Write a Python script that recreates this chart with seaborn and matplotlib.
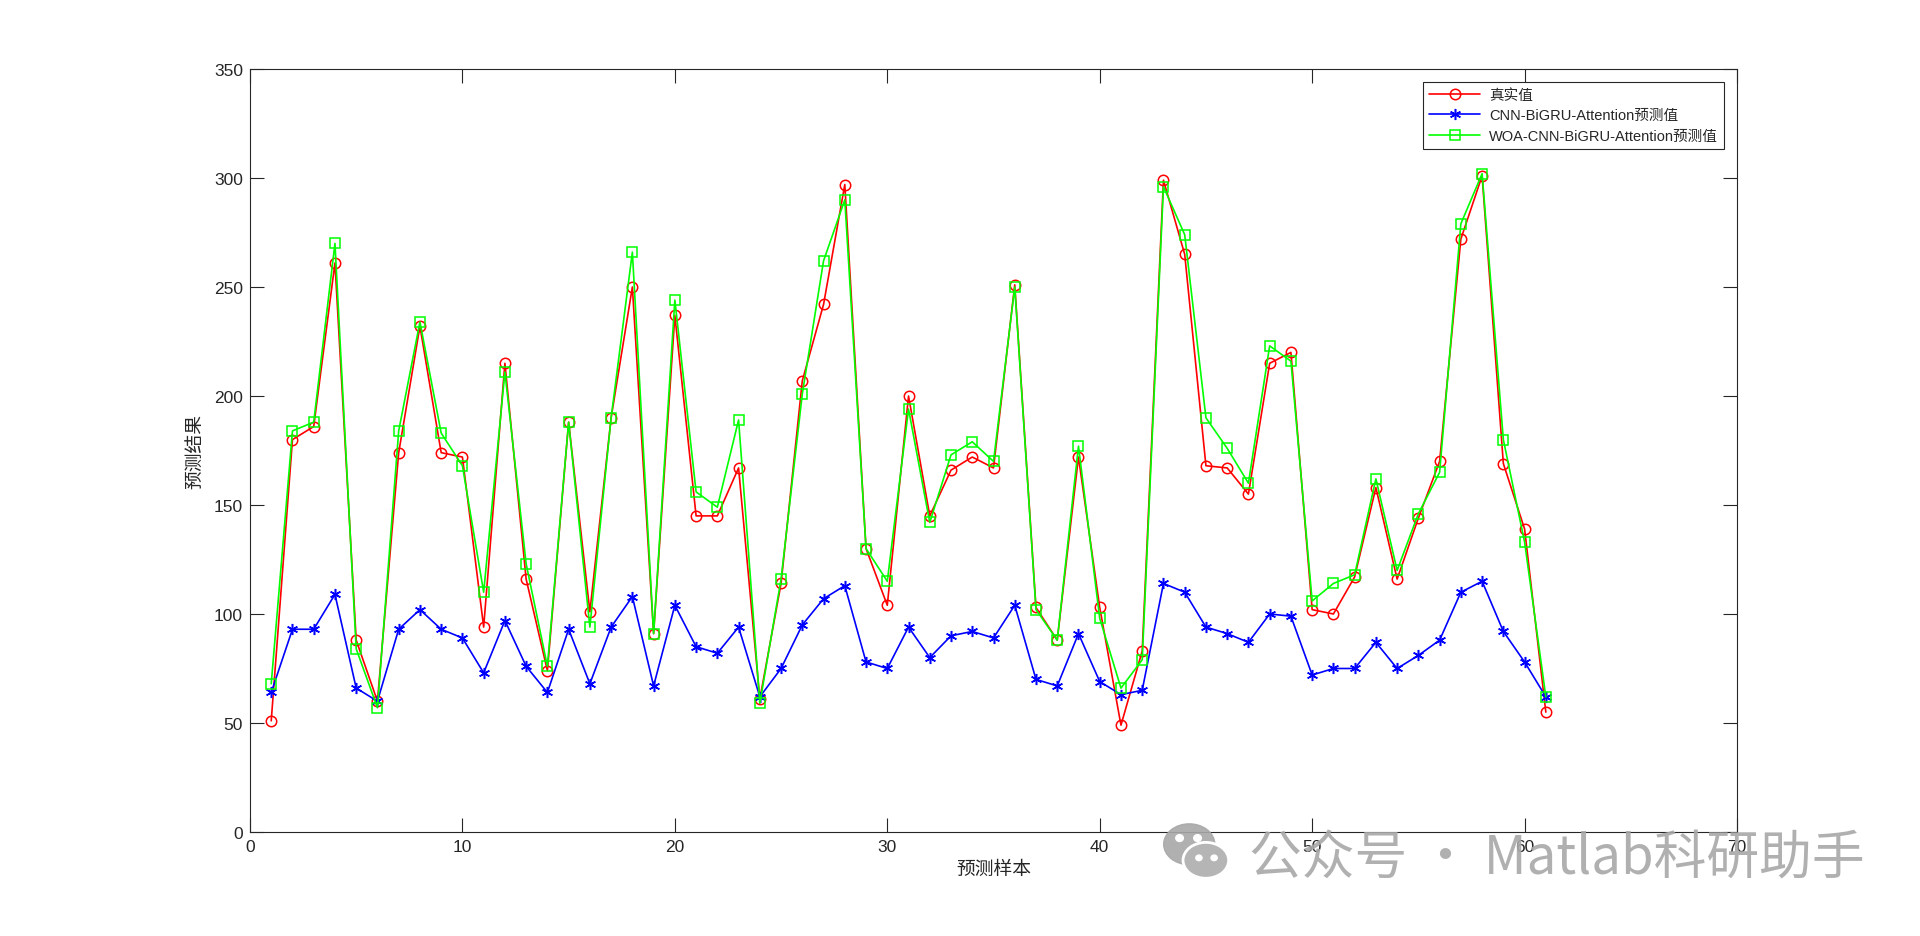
import numpy as np
import pandas as pd
import seaborn as sns
import matplotlib
matplotlib.use("Agg")
import matplotlib.pyplot as plt
from matplotlib.patches import Ellipse, Circle

# sample index and the three series
samples = list(range(1, 62))

true_vals = [51, 180, 186, 261, 88, 60, 174, 232, 174, 172,
             94, 215, 116, 74, 188, 101, 190, 250, 91, 237,
             145, 145, 167, 61, 114, 207, 242, 297, 130, 104,
             200, 145, 166, 172, 167, 251, 103, 88, 172, 103,
             49, 83, 299, 265, 168, 167, 155, 215, 220, 102,
             100, 117, 158, 116, 144, 170, 272, 301, 169, 139,
             55]

cnn_vals = [64, 93, 93, 109, 66, 60, 93, 102, 93, 89,
            73, 97, 76, 64, 93, 68, 94, 108, 67, 104,
            85, 82, 94, 62, 75, 95, 107, 113, 78, 75,
            94, 80, 90, 92, 89, 104, 70, 67, 91, 69,
            63, 65, 114, 110, 94, 91, 87, 100, 99, 72,
            75, 75, 87, 75, 81, 88, 110, 115, 92, 78,
            62]

woa_vals = [68, 184, 188, 270, 84, 57, 184, 234, 183, 168,
            110, 211, 123, 76, 188, 94, 190, 266, 91, 244,
            156, 149, 189, 59, 116, 201, 262, 290, 130, 115,
            194, 142, 173, 179, 170, 250, 102, 88, 177, 98,
            66, 79, 296, 274, 190, 176, 160, 223, 216, 106,
            114, 118, 162, 120, 146, 165, 279, 302, 180, 133,
            62]

labels = ["真实值", "CNN-BiGRU-Attention预测值", "WOA-CNN-BiGRU-Attention预测值"]
x_label = "预测样本"
y_label = "预测结果"
watermark = "公众号 · Matlab科研助手"

df = pd.DataFrame({"sample": samples, "true": true_vals,
                   "cnn": cnn_vals, "woa": woa_vals})

sns.set_theme(style="ticks")
plt.rcParams['font.family'] = ['Liberation Sans', 'Noto Sans CJK SC', 'DejaVu Sans']
plt.rcParams['axes.edgecolor'] = '#262626'
plt.rcParams['axes.linewidth'] = 0.8

fig = plt.figure(figsize=(19.2, 9.37), dpi=100)
fig.patch.set_facecolor("white")
ax = fig.add_axes([0.1302, 0.1110, 0.7745, 0.8143])

sns.lineplot(data=df, x="sample", y="true", ax=ax, color="#ff0000", lw=1.2,
             marker="o", markersize=7.5, markerfacecolor="none",
             markeredgecolor="#ff0000", markeredgewidth=1.1, label=labels[0])
sns.lineplot(data=df, x="sample", y="cnn", ax=ax, color="#0000ff", lw=1.2,
             marker=(6, 2, 0), markersize=8, markeredgecolor="#0000ff",
             markeredgewidth=1.1, label=labels[1])
sns.lineplot(data=df, x="sample", y="woa", ax=ax, color="#00ff00", lw=1.2,
             marker="s", markersize=6.5, markerfacecolor="none",
             markeredgecolor="#00ff00", markeredgewidth=1.1, label=labels[2])

ax.set_xlim(0, 70)
ax.set_ylim(0, 350)
ax.set_xticks(np.arange(0, 71, 10))
ax.set_yticks(np.arange(0, 351, 50))
ax.tick_params(direction="in", length=10, width=0.8, top=True, right=True,
               labelsize=12.5, colors="#262626", pad=5)
for s in ax.spines.values():
    s.set_visible(True)
    s.set_color("#262626")

ax.set_xlabel(x_label, fontsize=13.5, family=['Noto Sans CJK SC'], color="#262626", labelpad=3)
ax.set_ylabel(y_label, fontsize=13.5, family=['Noto Sans CJK SC'], color="#262626", labelpad=6)

leg = ax.legend(loc="upper right", bbox_to_anchor=(0.991, 0.983), borderaxespad=0,
                fancybox=False, edgecolor="#262626", framealpha=1, fontsize=10.5,
                handlelength=3.5, labelspacing=0.45, borderpad=0.4, handletextpad=0.6)
leg.get_frame().set_linewidth(0.8)

# watermark
fig.text(0.6505, 0.083, watermark, fontsize=38, color="#a8a8a8", alpha=0.9,
         family=['Noto Sans CJK SC', 'DejaVu Sans'], ha="left", va="center")
icon = fig.add_axes([0.605, 0.057, 0.036, 0.066])
icon.set_xlim(0, 1)
icon.set_ylim(0, 1)
icon.axis("off")
icon.add_patch(Ellipse((0.4, 0.62), 0.74, 0.66, color="#a8a8a8", alpha=0.9))
icon.add_patch(Ellipse((0.64, 0.36), 0.66, 0.58, color="#b5b5b5", ec="white", lw=2))
for cx, cy, r in [(0.26, 0.72, 0.055), (0.52, 0.72, 0.055), (0.54, 0.4, 0.045), (0.76, 0.4, 0.045)]:
    icon.add_patch(Circle((cx, cy), r, color="white"))

fig.savefig("out.png", dpi=100, facecolor="white")
